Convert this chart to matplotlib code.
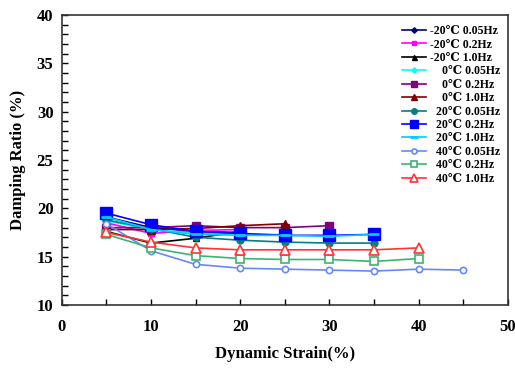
import numpy as np
import matplotlib.pyplot as plt
import matplotlib.ticker as ticker

plt.rcParams["font.family"] = ["Liberation Serif", "DejaVu Serif", "Noto Sans CJK SC"]
plt.rcParams["font.weight"] = "bold"

strain_45 = [5, 10, 15, 20, 25, 30, 35, 40, 45]

labels = [
    "-20℃ 0.05Hz", "-20℃ 0.2Hz", "-20℃ 1.0Hz",
    "    0℃ 0.05Hz", "    0℃ 0.2Hz", "    0℃ 1.0Hz",
    "  20℃ 0.05Hz", "  20℃ 0.2Hz", "  20℃ 1.0Hz",
    "  40℃ 0.05Hz", "  40℃ 0.2Hz", "  40℃ 1.0Hz",
]

# damping ratio (%) per series
m20_005 = [19.1, 18.0, 17.6, 17.5]
m20_02 = [18.5, 17.4, 17.7, 17.8]
m20_10 = [17.6, 16.4, 16.9, 17.6]
z_005 = [18.7, 17.8, 17.4, 17.3, 17.3]
z_02 = [18.0, 18.0, 18.2, 18.0, 18.0, 18.2]
z_10 = [17.8, 17.8, 17.9, 18.2, 18.4]
p20_005 = [18.8, 17.9, 17.0, 16.7, 16.5, 16.4, 16.4]
p20_02 = [19.5, 18.3, 17.6, 17.4, 17.2, 17.2, 17.3]
p20_10 = [19.1, 17.8, 17.3, 17.2, 17.2, 17.1, 17.3]
p40_005 = [18.4, 15.6, 14.2, 13.8, 13.7, 13.6, 13.5, 13.7, 13.6]
p40_02 = [17.3, 15.9, 15.1, 14.8, 14.7, 14.7, 14.5, 14.8]
p40_10 = [17.5, 16.5, 15.9, 15.7, 15.7, 15.7, 15.7, 15.9]

series = [m20_005, m20_02, m20_10, z_005, z_02, z_10,
          p20_005, p20_02, p20_10, p40_005, p40_02, p40_10]

styles = [
    dict(color="#000080", marker="D", ms=3.5, mfc="#000080"),
    dict(color="#ff00ff", marker="s", ms=4, mfc="#ff00ff"),
    dict(color="#000000", marker="^", ms=4.5, mfc="#000000"),
    dict(color="#00ffff", marker="D", ms=3.5, mfc="#00ffff"),
    dict(color="#800080", marker="s", ms=5.5, mfc="#800080"),
    dict(color="#800000", marker="^", ms=5.5, mfc="#800000"),
    dict(color="#008080", marker="o", ms=5, mfc="#008080"),
    dict(color="#0000ff", marker="s", ms=8, mfc="#0000ff"),
    dict(color="#00ccff", marker="_", ms=7, mfc="#00ccff", mew=2),
    dict(color="#6688ff", marker="o", ms=4.5, mfc="white", mew=1.2),
    dict(color="#3cb371", marker="s", ms=6, mfc="white", mew=1.2),
    dict(color="#ff3333", marker="^", ms=6.5, mfc="white", mew=1.2),
]

fig = plt.figure(figsize=(5.15, 3.70), dpi=100)
ax = fig.add_axes([0.120, 0.176, 0.866, 0.783])

for vals, lab, st in zip(series, labels, styles):
    x = strain_45[: len(vals)]
    ax.plot(x, vals, label=lab, lw=1.2, **st)

ax.set_xlim(0, 50)
ax.set_ylim(10, 40)
ax.xaxis.set_major_locator(ticker.MultipleLocator(10))
ax.xaxis.set_minor_locator(ticker.MultipleLocator(5))
ax.yaxis.set_major_locator(ticker.MultipleLocator(5))
ax.yaxis.set_minor_locator(ticker.MultipleLocator(1))
ax.tick_params(which="both", direction="in", labelsize=12, pad=10)
ax.tick_params(which="major", length=4, width=1)
ax.tick_params(which="minor", length=4, width=1)
ax.tick_params(axis="y", pad=6)
for lbl in ax.get_xticklabels() + ax.get_yticklabels():
    lbl.set_fontweight("bold")
for s in ax.spines.values():
    s.set_linewidth(1.2)
    s.set_color("#333333")

ax.set_xlabel("Dynamic Strain(%)", fontsize=12, fontweight="bold", labelpad=8)
ax.set_ylabel("Damping Ratio (%)", fontsize=12, fontweight="bold", labelpad=8)

ax.legend(loc="upper right", bbox_to_anchor=(1.0, 0.99), frameon=False,
          fontsize=8.5, handlelength=2.0, labelspacing=0.12, borderaxespad=0.2,
          handletextpad=0.4, markerscale=0.8)

fig.savefig("out.png", dpi=100)
